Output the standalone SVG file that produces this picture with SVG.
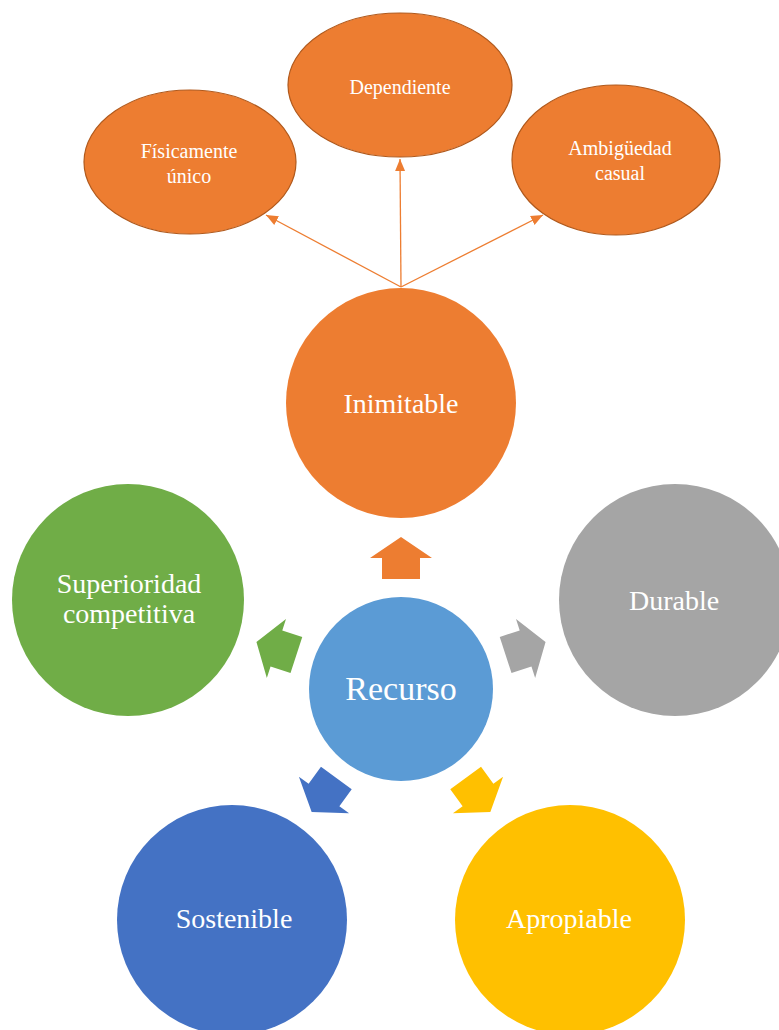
<svg xmlns="http://www.w3.org/2000/svg" width="779" height="1030" viewBox="0 0 779 1030">
  <style>
    .lbl { font-family: "Liberation Serif", "Times New Roman", serif; fill: #ffffff; text-anchor: middle; }
    .big { font-size: 28px; }
    .hub { font-size: 34px; }
    .small { font-size: 20px; }
    .sub { fill: #ED7D31; stroke: #B0591C; stroke-width: 1.2; }
    .link { stroke: #ED7D31; stroke-width: 1.3; fill: none; marker-end: url(#tri); }
  </style>
  <defs>
    <marker id="tri" markerUnits="userSpaceOnUse" markerWidth="12" markerHeight="12" viewBox="0 0 12 12" refX="12" refY="6" orient="auto">
      <path d="M0,1 L12,6 L0,11 Z" fill="#ED7D31"/>
    </marker>
    <!-- block arrow pointing up, placed relative to the hub centre -->
    <path id="blk" d="M0,-152 L31,-131 L19,-131 L19,-110 L-19,-110 L-19,-131 L-31,-131 Z"/>
  </defs>
  <rect width="779" height="1030" fill="#ffffff"/>

  <!-- connectors -->
  <g id="connectors">
    <line class="link" x1="401" y1="287" x2="400" y2="159"/>
    <line class="link" x1="401" y1="287" x2="266" y2="215"/>
    <line class="link" x1="401" y1="287" x2="543" y2="215"/>
    <g transform="translate(401,689)">
      <use href="#blk" fill="#ED7D31"/>
      <use href="#blk" fill="#70AD47" transform="rotate(-72)"/>
      <use href="#blk" fill="#A5A5A5" transform="rotate(72)"/>
      <use href="#blk" fill="#4472C4" transform="rotate(-144)"/>
      <use href="#blk" fill="#FFC000" transform="rotate(144)"/>
    </g>
  </g>

  <g id="dependiente">
    <ellipse class="sub" cx="400" cy="85" rx="112" ry="72"/>
    <text class="lbl small" x="400" y="94">Dependiente</text>
  </g>
  <g id="fisicamente-unico">
    <ellipse class="sub" cx="190" cy="162" rx="106" ry="72"/>
    <text class="lbl small" x="189" y="158">Físicamente</text>
    <text class="lbl small" x="189" y="183">único</text>
  </g>
  <g id="ambiguedad-casual">
    <ellipse class="sub" cx="616" cy="160" rx="104" ry="75"/>
    <text class="lbl small" x="620" y="155">Ambigüedad</text>
    <text class="lbl small" x="620" y="180">casual</text>
  </g>

  <g id="inimitable">
    <circle cx="401" cy="403" r="115" fill="#ED7D31"/>
    <text class="lbl big" x="401" y="413">Inimitable</text>
  </g>
  <g id="superioridad">
    <circle cx="128" cy="600" r="116" fill="#70AD47"/>
    <text class="lbl big" x="129" y="593">Superioridad</text>
    <text class="lbl big" x="129" y="623">competitiva</text>
  </g>
  <g id="durable">
    <circle cx="675" cy="600" r="116" fill="#A5A5A5"/>
    <text class="lbl big" x="674" y="610">Durable</text>
  </g>
  <g id="recurso">
    <circle cx="401" cy="689" r="92" fill="#5B9BD5"/>
    <text class="lbl hub" x="401" y="700">Recurso</text>
  </g>
  <g id="sostenible">
    <circle cx="232" cy="920" r="115" fill="#4472C4"/>
    <text class="lbl big" x="234" y="928">Sostenible</text>
  </g>
  <g id="apropiable">
    <circle cx="570" cy="920" r="115" fill="#FFC000"/>
    <text class="lbl big" x="569" y="928">Apropiable</text>
  </g>
</svg>
